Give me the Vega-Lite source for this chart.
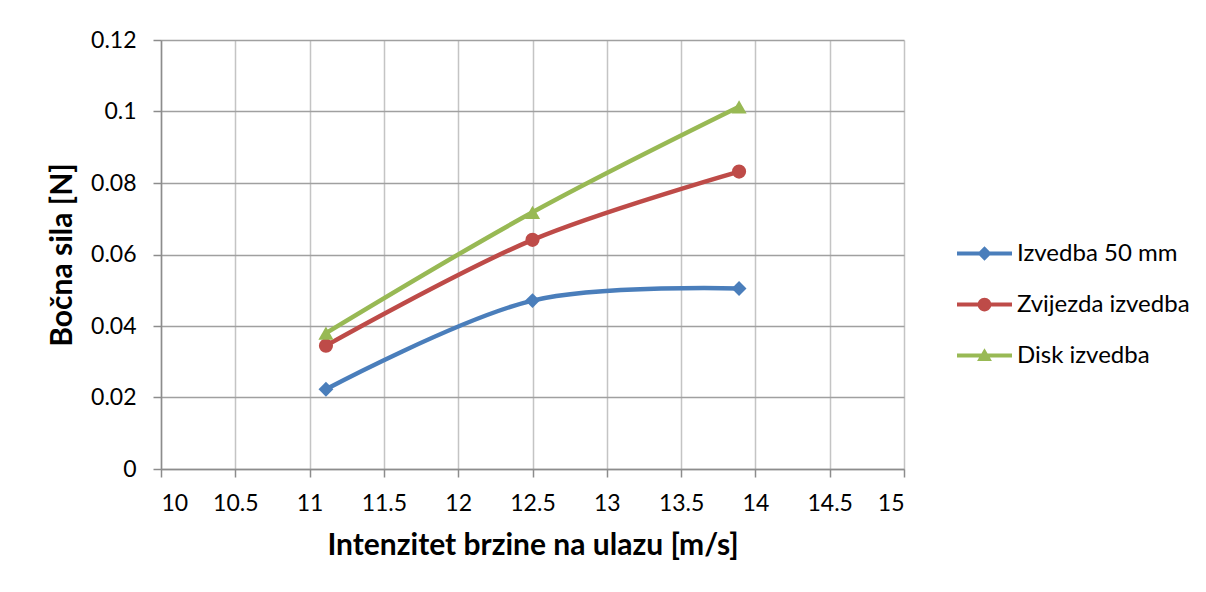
{
  "$schema": "https://vega.github.io/schema/vega-lite/v6.json",
  "autosize": {"type": "none"},
  "padding": {"left": 161, "top": 40, "right": 302, "bottom": 123},
  "width": 743,
  "height": 429,
  "background": "white",
  "config": {
    "font": "Lato",
    "view": {"stroke": null}
  },
  "data": {
    "values": [
      {"v": 11.11, "f": 0.0223, "s": "Izvedba 50 mm"},
      {"v": 12.5, "f": 0.0471, "s": "Izvedba 50 mm"},
      {"v": 13.89, "f": 0.0505, "s": "Izvedba 50 mm"},
      {"v": 11.11, "f": 0.0345, "s": "Zvijezda izvedba"},
      {"v": 12.5, "f": 0.0641, "s": "Zvijezda izvedba"},
      {"v": 13.89, "f": 0.0832, "s": "Zvijezda izvedba"},
      {"v": 11.11, "f": 0.038, "s": "Disk izvedba"},
      {"v": 12.5, "f": 0.0718, "s": "Disk izvedba"},
      {"v": 13.89, "f": 0.1013, "s": "Disk izvedba"}
    ]
  },
  "encoding": {
    "x": {
      "field": "v", "type": "quantitative",
      "scale": {"domain": [10, 15], "nice": false, "zero": false},
      "axis": {
        "values": [10, 10.5, 11, 11.5, 12, 12.5, 13, 13.5, 14, 14.5, 15], "format": ".1~f",
        "title": "Intenzitet brzine na ulazu [m/s]",
        "labelFont": "Lato", "labelFontSize": 23, "labelColor": "black", "labelPadding": 15,
        "titleFont": "Lato", "titleFontSize": 30, "titleFontWeight": "bold", "titleColor": "black", "titlePadding": 15,
        "tickSize": 8, "tickColor": "#8c8c8c", "tickWidth": 1.5, "domainColor": "#8c8c8c", "domainWidth": 1.5,
        "gridColor": "#c4c4c4", "gridWidth": 1.5, "labelOverlap": false
      }
    },
    "y": {
      "field": "f", "type": "quantitative",
      "scale": {"domain": [0, 0.12], "nice": false},
      "axis": {
        "values": [0, 0.02, 0.04, 0.06, 0.08, 0.1, 0.12], "format": ".2~f",
        "title": "Bočna sila [N]",
        "labelFont": "Lato", "labelFontSize": 23, "labelColor": "black", "labelPadding": 17,
        "titleFont": "Lato", "titleFontSize": 30, "titleFontWeight": "bold", "titleColor": "black", "titlePadding": 13,
        "tickSize": 8, "tickColor": "#8c8c8c", "tickWidth": 1.5, "domainColor": "#8c8c8c", "domainWidth": 1.5,
        "gridColor": "#a0a0a0", "gridWidth": 1.5, "labelOverlap": false
      }
    }
  },
  "layer": [
    {
      "transform": [{"filter": "datum.s === 'Izvedba 50 mm'"}],
      "mark": {"type": "line", "interpolate": "catmull-rom", "strokeWidth": 4.5, "color": "#4a7ebb"},
      "encoding": {}
    },
    {
      "transform": [{"filter": "datum.s === 'Zvijezda izvedba'"}],
      "mark": {"type": "line", "interpolate": "catmull-rom", "strokeWidth": 4.5, "color": "#be4b48"},
      "encoding": {}
    },
    {
      "transform": [{"filter": "datum.s === 'Disk izvedba'"}],
      "mark": {"type": "line", "interpolate": "catmull-rom", "strokeWidth": 4.5, "color": "#98b954"},
      "encoding": {}
    },
    {
      "transform": [{"filter": "datum.s === 'Izvedba 50 mm'"}],
      "mark": {"type": "point", "shape": "diamond", "filled": true, "size": 220, "opacity": 1, "color": "#4a7ebb"}
    },
    {
      "transform": [{"filter": "datum.s === 'Zvijezda izvedba'"}],
      "mark": {"type": "point", "shape": "circle", "filled": true, "size": 200, "opacity": 1, "color": "#be4b48"}
    },
    {
      "transform": [{"filter": "datum.s === 'Disk izvedba'"}],
      "mark": {"type": "point", "shape": "triangle-up", "filled": true, "size": 230, "opacity": 1, "color": "#98b954"}
    },
    {
      "mark": {"type": "point", "filled": true, "opacity": 0},
      "encoding": {
        "color": {
          "field": "s", "type": "nominal",
          "scale": {"domain": ["Izvedba 50 mm", "Zvijezda izvedba", "Disk izvedba"], "range": ["#4a7ebb", "#be4b48", "#98b954"]},
          "legend": {
            "title": null, "orient": "none", "legendX": 796, "legendY": 186,
            "labelFontSize": 24, "labelFont": "Lato", "labelColor": "black", "labelLimit": 0,
            "symbolSize": 3025, "symbolStrokeWidth": 0, "symbolOpacity": 1, "labelOffset": 5, "rowPadding": 11, "padding": 0
          }
        },
        "shape": {
          "field": "s", "type": "nominal",
          "scale": {
            "domain": ["Izvedba 50 mm", "Zvijezda izvedba", "Disk izvedba"],
            "range": [
              "M-1,-0.075H1V0.075H-1ZM0,-0.26L0.26,0L0,0.26L-0.26,0Z",
              "M-1,-0.075H1V0.075H-1ZM0.25,0A0.25,0.25,0,1,1,-0.25,0A0.25,0.25,0,1,1,0.25,0Z",
              "M-1,-0.075H1V0.075H-1ZM0,-0.26L0.27,0.2L-0.27,0.2Z"
            ]
          },
          "legend": {
            "title": null, "orient": "none", "legendX": 796, "legendY": 186,
            "labelFontSize": 24, "labelFont": "Lato", "labelColor": "black", "labelLimit": 0,
            "symbolSize": 3025, "symbolStrokeWidth": 0, "symbolOpacity": 1, "labelOffset": 5, "rowPadding": 11, "padding": 0
          }
        }
      }
    }
  ]
}
